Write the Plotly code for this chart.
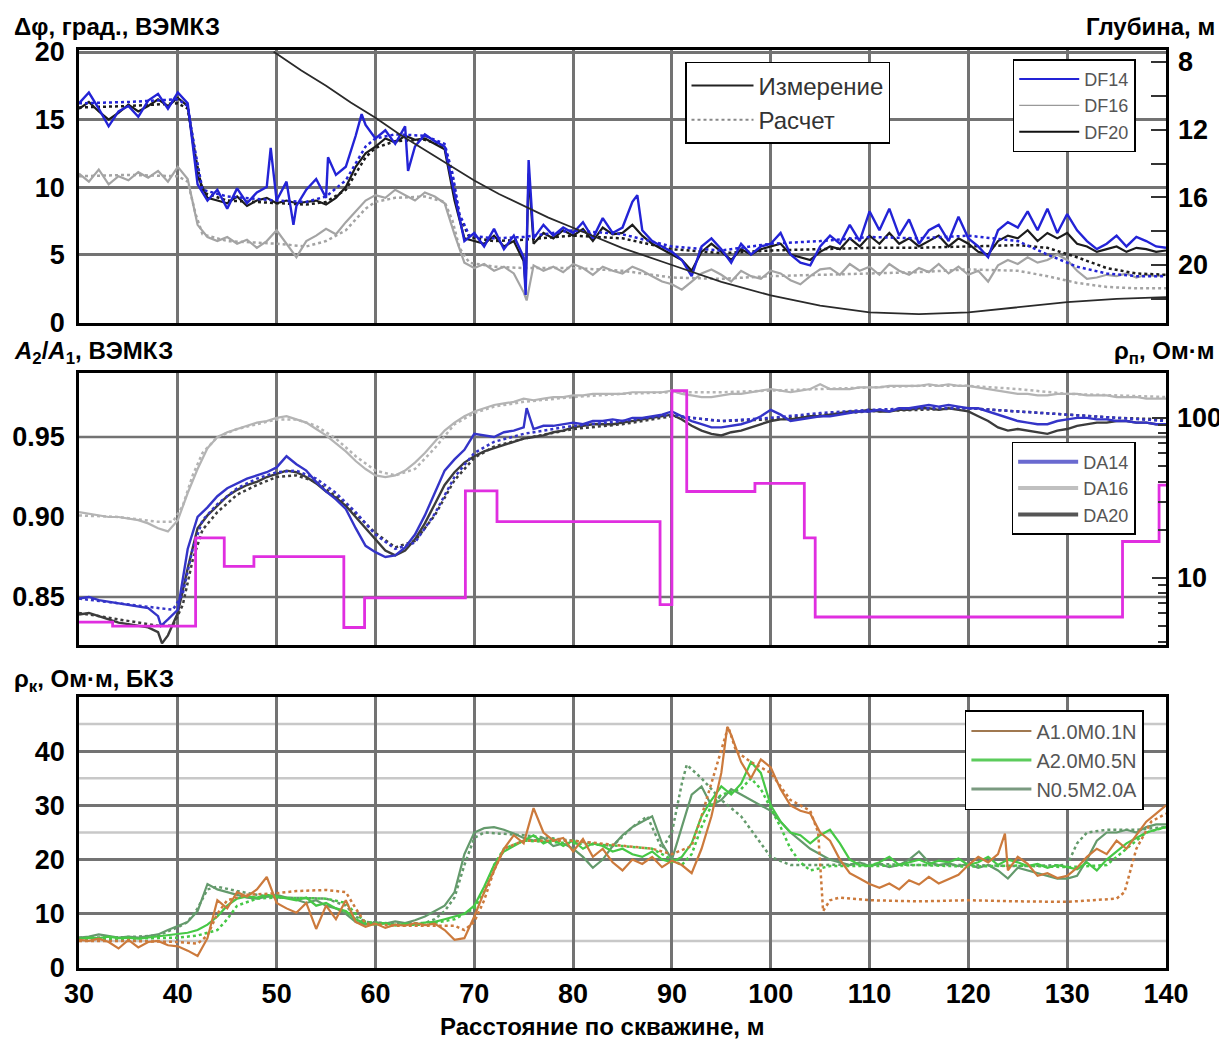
import plotly.graph_objects as go

# ---------------- data ----------------
X = list(range(30, 141))

# Top panel: phase difference (deg), measured, 1 m step
DF14_MEAS = [16.2, 17.0, 15.8, 14.5, 15.6, 16.0, 15.2, 16.4, 16.9, 15.8,
             17.0, 16.2, 10.2, 9.0, 9.8, 8.4, 9.9, 8.8, 9.6, 10.0,
             9.0, 10.4, 8.6, 9.8, 10.6, 9.2, 10.9, 11.5, 13.8, 14.6,
             13.6, 14.2, 13.2, 14.5, 13.0, 13.9, 13.4, 13.0, 9.5, 6.0,
             6.6, 5.6, 6.9, 5.4, 6.4, 4.8, 6.2, 7.2, 6.4, 7.0,
             6.6, 7.4, 6.2, 7.7, 6.6, 7.0, 8.9, 6.8, 6.0, 5.6,
             5.2, 4.6, 3.4, 5.6, 6.2, 5.4, 4.4, 5.8, 5.0, 5.6,
             5.8, 6.6, 5.0, 4.4, 4.2, 5.6, 6.4, 5.8, 7.2, 6.0,
             8.2, 6.8, 8.4, 6.4, 7.6, 5.8, 6.8, 7.2, 6.0, 7.8,
             6.2, 5.6, 4.8, 6.8, 7.4, 7.0, 8.2, 6.8, 8.4, 6.6,
             8.0, 6.8, 6.0, 5.4, 5.8, 6.4, 5.6, 6.3, 6.0, 5.6,
             5.5]
DF14_EXTRA_X = [49.4, 51.7, 55.2, 58.6, 63.3, 75.2, 75.5, 86.5]
DF14_EXTRA_Y = [12.9, 7.2, 12.2, 15.4, 11.2, 2.0, 12.0, 9.4]

DF20_MEAS = [15.8, 16.3, 15.6, 15.0, 15.5, 16.1, 15.6, 16.0, 16.5, 16.0,
             16.6, 16.0, 10.8, 9.2, 9.0, 8.8, 9.3, 8.6, 9.0, 9.2,
             8.8, 9.0, 8.8, 8.9, 9.0, 8.7, 9.2, 10.0, 11.5, 12.5,
             13.0, 13.6, 13.3, 13.8, 13.5, 13.6, 13.2, 12.8, 9.0, 6.2,
             6.0, 5.8, 6.4, 5.6, 6.0, 4.5, 5.8, 6.6, 6.2, 6.8,
             6.4, 6.9, 6.0, 7.0, 6.5, 6.6, 7.2, 6.4, 5.8, 5.4,
             5.0, 4.6, 3.8, 5.2, 5.8, 5.2, 4.6, 5.4, 5.0, 5.4,
             5.6, 5.8, 5.0, 4.8, 4.6, 5.2, 5.6, 5.4, 6.2, 5.6,
             6.4, 5.8, 6.6, 5.8, 6.2, 5.6, 6.0, 6.4, 5.6, 6.2,
             5.8, 5.2, 5.0, 6.0, 6.4, 6.2, 6.8, 6.0, 6.6, 6.2,
             6.6, 5.8, 5.6, 5.2, 5.4, 5.6, 5.2, 5.5, 5.4, 5.2,
             5.3]
DF20_EXTRA_X = [75.2, 75.5]
DF20_EXTRA_Y = [2.6, 11.0]

DF16_MEAS = [11.0, 10.4, 11.3, 10.2, 10.8, 10.5, 11.1, 10.7, 11.2, 10.4,
             11.5, 10.6, 7.2, 6.3, 6.0, 6.3, 5.8, 6.1, 5.5, 6.0,
             6.8, 5.8, 4.8, 6.0, 6.4, 6.9, 6.5, 7.4, 8.2, 9.0,
             9.4, 9.2, 9.8, 9.4, 9.0, 9.6, 9.3, 8.8, 6.5, 4.4,
             4.0, 4.3, 3.8, 4.1, 3.6, 2.2, 4.2, 3.8, 4.1, 3.7,
             4.3, 4.0, 3.5, 4.1, 3.8, 3.6, 4.1, 3.8, 3.4, 3.0,
             2.8, 2.4, 3.0, 3.6, 3.9, 3.5, 3.0, 3.8, 3.4, 3.2,
             3.8, 3.6, 3.1, 2.8, 3.4, 3.9, 4.0, 3.5, 4.3, 3.8,
             4.1, 3.5, 4.3, 3.8, 3.5, 4.0, 3.7, 4.3, 3.6, 4.1,
             3.5, 3.8, 3.0, 4.2, 4.6, 4.3, 4.8, 4.4, 4.6, 5.0,
             4.6, 3.8, 3.2, 3.3, 3.5, 3.4, 3.6, 3.3, 3.5, 3.4,
             3.5]
DF16_EXTRA_X = [75.3]
DF16_EXTRA_Y = [1.6]

# Top panel: computed (dotted)
DF_CALC_X = [30, 35, 40, 41, 41.8, 42.5, 45, 50, 53, 55, 57, 58, 59, 60, 62, 65,
             67, 67.8, 68.5, 69.5, 72, 75, 80, 85, 90, 95, 100, 105, 110, 115,
             120, 125, 128, 131, 134, 137, 140]
DF14_CALC = [16.2, 16.3, 16.5, 16.0, 12.5, 9.8, 9.3, 9.0, 8.9, 9.3, 10.5, 11.8, 13.0, 13.6, 13.9, 13.8,
             13.2, 11.0, 8.0, 6.4, 6.2, 6.3, 6.8, 6.5, 5.6, 5.3, 5.8, 6.0, 6.3, 6.2,
             6.4, 6.0, 5.0, 4.1, 3.6, 3.4, 3.4]
DF20_CALC = [15.9, 16.0, 16.2, 15.8, 12.2, 9.6, 9.0, 8.8, 8.7, 8.9, 9.8, 11.0, 12.2, 12.9, 13.4, 13.5,
             13.0, 10.8, 7.8, 6.3, 6.0, 6.1, 6.4, 6.2, 5.4, 5.1, 5.3, 5.4, 5.5, 5.5,
             5.6, 5.7, 5.5, 4.8, 4.0, 3.6, 3.5]
DF16_CALC = [10.8, 10.9, 10.8, 10.4, 8.0, 6.5, 6.0, 5.8, 5.6, 6.0, 6.8, 7.6, 8.4, 8.9, 9.2, 9.3,
             8.9, 7.5, 5.5, 4.4, 4.1, 4.0, 4.0, 3.8, 3.3, 3.2, 3.4, 3.5, 3.6, 3.7,
             3.9, 3.8, 3.4, 2.9, 2.6, 2.5, 2.5]

# Top panel: well depth (m), right axis
DEPTH_X = [49.7, 52.5, 55, 57.5, 60, 62.5, 65, 67.5, 70, 72.5, 75, 77.5, 80, 85, 90,
           95, 100, 105, 110, 115, 120, 125, 130, 135, 140]
DEPTH = [7.4, 8.5, 9.4, 10.4, 11.3, 12.3, 13.2, 14.1, 15.0, 15.8, 16.5, 17.2, 17.8, 19.0, 20.0,
         21.0, 21.8, 22.4, 22.8, 22.9, 22.8, 22.5, 22.2, 22.0, 21.9]

# Middle panel: amplitude ratio, measured, 1 m step
DA14_MEAS = [0.849, 0.850, 0.848, 0.847, 0.846, 0.845, 0.844, 0.843, 0.838, 0.836,
             0.842, 0.880, 0.900, 0.906, 0.913, 0.918, 0.921, 0.924, 0.926, 0.928,
             0.931, 0.938, 0.933, 0.929, 0.922, 0.916, 0.911, 0.905, 0.893, 0.882,
             0.878, 0.875, 0.876, 0.881, 0.889, 0.901, 0.915, 0.929, 0.936, 0.942,
             0.952, 0.951, 0.950, 0.953, 0.954, 0.956, 0.955, 0.957, 0.957, 0.958,
             0.959, 0.958, 0.960, 0.960, 0.961, 0.960, 0.962, 0.962, 0.963, 0.964,
             0.966, 0.963, 0.960, 0.958, 0.956, 0.956, 0.957, 0.958, 0.960, 0.963,
             0.967, 0.964, 0.960, 0.961, 0.962, 0.963, 0.963, 0.964, 0.965, 0.966,
             0.966, 0.967, 0.966, 0.968, 0.968, 0.969, 0.970, 0.969, 0.970, 0.969,
             0.968, 0.968, 0.966, 0.964, 0.962, 0.960, 0.959, 0.958, 0.958, 0.960,
             0.961, 0.962, 0.962, 0.961, 0.961, 0.960, 0.960, 0.959, 0.959, 0.958,
             0.958]
DA14_EXTRA_X = [38.3, 75.3]
DA14_EXTRA_Y = [0.832, 0.968]

DA20_MEAS = [0.839, 0.840, 0.838, 0.836, 0.834, 0.833, 0.832, 0.831, 0.828, 0.826,
             0.840, 0.868, 0.893, 0.901, 0.907, 0.913, 0.917, 0.920, 0.922, 0.925,
             0.927, 0.929, 0.928, 0.925, 0.921, 0.916, 0.912, 0.907, 0.900, 0.893,
             0.886, 0.879, 0.876, 0.879, 0.886, 0.896, 0.908, 0.920, 0.928, 0.934,
             0.938, 0.941, 0.943, 0.945, 0.947, 0.949, 0.950, 0.951, 0.953, 0.954,
             0.956, 0.957, 0.958, 0.958, 0.958, 0.959, 0.960, 0.961, 0.962, 0.963,
             0.964, 0.961, 0.957, 0.954, 0.952, 0.951, 0.953, 0.954, 0.956, 0.958,
             0.960, 0.961, 0.961, 0.962, 0.963, 0.963, 0.964, 0.965, 0.966, 0.966,
             0.967, 0.966, 0.966, 0.967, 0.967, 0.968, 0.968, 0.967, 0.968, 0.967,
             0.966, 0.963, 0.960, 0.956, 0.954, 0.955, 0.954, 0.953, 0.952, 0.954,
             0.955, 0.957, 0.958, 0.959, 0.959, 0.960, 0.960, 0.959, 0.959, 0.958,
             0.958]
DA20_EXTRA_X = [38.4]
DA20_EXTRA_Y = [0.821]

DA16_MEAS = [0.903, 0.902, 0.901, 0.900, 0.900, 0.899, 0.898, 0.896, 0.893, 0.891,
             0.898, 0.915, 0.930, 0.943, 0.950, 0.953, 0.955, 0.957, 0.959, 0.960,
             0.962, 0.963, 0.961, 0.959, 0.955, 0.951, 0.946, 0.941, 0.935, 0.930,
             0.926, 0.925, 0.926, 0.929, 0.934, 0.940, 0.947, 0.954, 0.959, 0.963,
             0.966, 0.968, 0.970, 0.971, 0.972, 0.974, 0.973, 0.974, 0.975, 0.975,
             0.976, 0.976, 0.977, 0.977, 0.977, 0.977, 0.978, 0.978, 0.978, 0.978,
             0.979, 0.977, 0.976, 0.975, 0.975, 0.976, 0.977, 0.977, 0.978, 0.979,
             0.980, 0.979, 0.978, 0.979, 0.980, 0.983, 0.980, 0.980, 0.980, 0.981,
             0.981, 0.981, 0.982, 0.982, 0.982, 0.982, 0.983, 0.982, 0.983, 0.982,
             0.982, 0.981, 0.980, 0.979, 0.978, 0.977, 0.977, 0.976, 0.976, 0.977,
             0.977, 0.977, 0.976, 0.976, 0.976, 0.975, 0.975, 0.975, 0.974, 0.974,
             0.974]

DA_CALC_X = [30, 34, 38, 39.5, 40.5, 41.5, 42.5, 44, 46, 48,
             50, 52, 54, 56, 58, 60, 62, 64, 66, 68,
             70, 72, 75, 80, 85, 90, 92, 95, 100, 105,
             110, 115, 120, 125, 130, 135, 140]
DA14_CALC = [0.849, 0.846, 0.843, 0.842, 0.852, 0.880, 0.898, 0.908, 0.918, 0.924,
             0.928, 0.929, 0.924, 0.915, 0.903, 0.889, 0.880, 0.884, 0.902, 0.925,
             0.940, 0.947, 0.952, 0.957, 0.960, 0.964, 0.962, 0.960, 0.962, 0.965,
             0.967, 0.968, 0.968, 0.966, 0.964, 0.962, 0.960]
DA16_CALC = [0.901, 0.900, 0.897, 0.897, 0.907, 0.926, 0.940, 0.950, 0.955, 0.958,
             0.961, 0.961, 0.957, 0.949, 0.938, 0.929, 0.926, 0.930, 0.943, 0.958,
             0.965, 0.969, 0.972, 0.975, 0.977, 0.978, 0.978, 0.978, 0.979, 0.980,
             0.981, 0.982, 0.982, 0.980, 0.977, 0.976, 0.975]
DA20_CALC = [0.840, 0.836, 0.832, 0.832, 0.845, 0.873, 0.892, 0.903, 0.914, 0.920,
             0.925, 0.926, 0.922, 0.913, 0.902, 0.890, 0.881, 0.885, 0.901, 0.923,
             0.937, 0.944, 0.949, 0.955, 0.958, 0.963, 0.962, 0.960, 0.961, 0.964,
             0.966, 0.967, 0.968, 0.966, 0.964, 0.962, 0.961]

# Middle panel: layered model resistivity (Ohm*m), step curve, right log axis
RHO_X = [30, 33.4, 41.8, 44.7, 47.7, 56.8, 58.9, 69.1, 72.3, 88.8, 90.0, 91.5,
         98.4, 103.4, 104.5, 135.6, 139.3, 140]
RHO = [5.3, 5.0, 17.8, 11.8, 13.6, 4.9, 7.5, 35.0, 22.5, 6.8, 148.0, 34.7,
       39.0, 17.8, 5.7, 16.9, 38.0, 38.0]

# Bottom panel: apparent resistivity (Ohm*m), measured, 1 m step
A1_MEAS = [5.2, 5.0, 5.4, 4.8, 3.6, 5.2, 3.8, 4.8, 5.0, 4.2,
           4.0, 3.2, 2.2, 5.5, 12.5, 11.0, 14.0, 13.2, 14.5, 16.8,
           12.0, 11.0, 10.2, 12.0, 7.2, 11.5, 9.0, 12.5, 8.5, 7.6,
           8.2, 7.4, 8.0, 7.8, 8.3, 7.9, 8.2, 7.0, 5.2, 5.5,
           9.5, 14.0, 18.0, 22.0, 24.5, 23.0, 29.5, 25.0, 23.5, 24.0,
           21.5, 23.8, 20.5, 22.0, 19.5, 18.0, 20.0, 19.2, 20.5, 18.6,
           19.8, 19.0, 17.5, 22.0, 28.0, 36.0, 43.0, 38.0, 35.0, 38.5,
           37.0, 33.0, 30.0, 29.0, 28.5, 25.0, 23.5, 20.0, 17.5, 16.5,
           15.5, 14.8, 15.6, 14.5, 16.2, 15.4, 16.8, 15.6, 16.4, 17.2,
           19.0, 20.5, 19.5, 21.0, 18.0, 20.5, 19.2, 17.0, 17.5, 16.6,
           17.0, 18.5, 20.5, 22.0, 21.0, 23.5, 22.0, 24.5, 27.0, 28.5,
           30.0]
A1_EXTRA_X = [95.6, 123.7]
A1_EXTRA_Y = [44.5, 24.8]

A2_MEAS = [5.4, 5.6, 5.5, 5.8, 5.5, 5.6, 5.4, 5.6, 5.8, 6.0,
           6.2, 6.5, 7.0, 8.0, 9.5, 11.5, 12.8, 13.2, 13.0, 13.5,
           13.2, 12.8, 12.5, 13.0, 11.5, 12.0, 11.0, 10.5, 9.0, 8.2,
           8.0, 8.3, 7.8, 8.2, 8.0, 8.4, 8.5, 9.0, 9.5, 10.0,
           11.5, 15.0, 19.0, 21.5, 22.5, 23.5, 24.5, 23.0, 23.8, 22.5,
           23.5, 22.0, 23.0, 22.5, 21.5, 22.0, 21.0, 20.5, 21.5, 20.0,
           19.5, 20.5, 23.0, 28.0, 31.0, 33.5, 32.0, 34.0, 38.0, 36.0,
           30.0, 27.0, 25.0, 24.5, 23.0, 24.5, 25.5, 23.0, 20.0, 19.0,
           18.8, 19.5, 20.5, 19.0, 19.5, 20.0, 19.2, 19.8, 19.5, 20.2,
           19.0, 19.5, 20.5, 19.0, 20.0, 19.5, 18.8, 19.2, 18.5, 19.0,
           18.6, 18.2, 19.5, 18.0, 20.0, 21.5, 23.0, 24.0, 25.0, 25.5,
           26.0]

N_MEAS = [5.6, 5.8, 6.2, 5.9, 5.6, 5.8, 5.6, 5.9, 6.2, 7.0,
          7.8, 8.5, 10.5, 15.5, 14.5, 14.0, 13.5, 13.0, 12.8, 13.2,
          13.5, 13.0, 12.6, 12.0, 12.5, 11.5, 11.0, 10.0, 8.5, 8.0,
          8.4, 8.2, 8.6, 8.3, 8.8, 9.5, 10.5, 11.5, 14.0, 21.0,
          25.0, 25.8, 26.0, 25.5, 24.8, 24.0, 23.5, 24.0, 22.5, 23.0,
          22.0, 20.5, 18.5, 20.0, 22.5, 24.5, 26.0, 27.0, 28.0, 23.0,
          20.0, 26.0, 32.0, 33.5, 30.0, 31.0, 33.0, 32.0, 31.0, 30.0,
          29.0, 27.0, 25.0, 23.5, 22.0, 21.0, 20.0, 19.5, 19.0, 19.5,
          18.8, 19.2, 18.6, 19.0, 20.0, 21.5, 19.5, 19.0, 19.3, 18.8,
          19.2, 18.5, 19.0, 18.0, 16.5, 18.5, 18.0, 17.5, 17.0, 16.5,
          16.5, 17.0, 20.0, 23.5, 25.0, 25.0, 25.5, 25.0, 26.0, 26.5,
          26.5]

# Bottom panel: computed (dotted)
A1_CALC_X = [30, 35, 40, 42, 43, 44, 45, 47, 50, 52,
             55, 57, 58, 59, 62, 65, 68, 69, 70, 71,
             72, 73, 75, 80, 85, 88, 90, 92, 93, 94,
             95, 95.7, 96.5, 98, 100, 102, 104, 104.8, 105.3, 106,
             107, 110, 115, 120, 125, 130, 135, 135.8, 137, 138.5,
             140]
A1_CALC = [5.0, 5.0, 4.8, 4.5, 6.0, 10.0, 12.5, 13.5, 13.8, 14.2,
           14.4, 14.0, 11.0, 8.2, 7.8, 7.8, 7.8, 7.0, 8.5, 12.5,
           18.0, 22.0, 23.5, 23.5, 22.5, 22.0, 21.0, 22.5, 28.0, 34.0,
           40.0, 44.5, 40.0, 38.0, 36.0, 31.0, 29.0, 25.0, 10.5, 12.5,
           13.0, 12.5, 12.3, 12.5, 12.3, 12.2, 12.8, 14.0, 22.0, 27.0,
           28.5]
A2_CALC_X = [30, 35, 40, 42, 44, 45, 46, 48, 50, 55,
             57, 58, 59, 62, 65, 68, 70, 71, 72, 73,
             75, 80, 85, 88, 90, 91, 92, 93, 94, 95,
             97, 98, 99, 100, 101, 102, 103, 104, 106, 110,
             115, 120, 125, 130, 134, 136, 138, 140]
A2_CALC = [5.2, 5.4, 5.6, 6.0, 7.0, 9.0, 11.5, 12.8, 13.0, 12.8,
           12.0, 10.0, 8.5, 8.0, 8.0, 9.0, 11.0, 14.0, 19.0, 22.0,
           23.5, 23.0, 22.5, 22.0, 20.0, 19.0, 21.0, 26.0, 30.0, 32.0,
           33.0, 35.0, 33.0, 29.5, 26.0, 22.0, 19.5, 18.0, 18.8, 18.8,
           19.0, 18.7, 18.9, 18.6, 19.0, 22.0, 25.0, 26.0]
N_CALC_X = [30, 35, 38, 40, 41, 42, 43, 44, 46, 48,
            50, 55, 57, 58, 59, 62, 65, 66, 67, 68,
            69, 70, 71, 75, 80, 84, 86, 87.5, 89, 90,
            91, 91.5, 93, 95, 97, 100, 102, 105, 110, 115,
            120, 125, 130, 131, 132, 134, 137, 140]
N_CALC = [5.6, 5.7, 6.0, 7.5, 8.5, 11.0, 14.5, 15.0, 14.2, 13.5,
          13.0, 12.8, 11.5, 9.5, 8.5, 8.2, 8.3, 9.0, 10.5, 13.0,
          19.0, 24.0, 25.0, 24.5, 23.5, 22.5, 26.0, 28.0, 22.0, 25.0,
          34.0, 37.5, 35.0, 31.0, 28.0, 20.5, 19.0, 19.0, 19.2, 19.0,
          19.0, 18.8, 19.0, 23.0, 25.0, 25.5, 25.5, 26.0]

# axis/grid values
GRID_MID = [0.85, 0.95]
LIGHT_GRID_BOTTOM = [5, 25, 35, 45]

# ---------------- styles ----------------
FONT = 'Liberation Sans, Arial, sans-serif'
C_DF14, C_DF16, C_DF20 = '#2323d6', '#a4a4a4', '#1c1c1c'
C_DA14, C_DA16, C_DA20 = '#3434c8', '#b4b4b4', '#3c3c3c'
C_RHO = '#e02ee0'
C_A1, C_A2, C_N = '#cc7a3c', '#46c846', '#649a6c'
GRID_C = '#737373'


def merged(xs, ys, ex, ey):
    pts = sorted(zip(list(xs) + list(ex), list(ys) + list(ey)))
    return [p[0] for p in pts], [p[1] for p in pts]


fig = go.Figure()


def add(x, y, color, width, dash, xa, ya, shape='linear'):
    fig.add_trace(go.Scatter(x=x, y=y, mode='lines', xaxis=xa, yaxis=ya,
                             line=dict(color=color, width=width, dash=dash, shape=shape),
                             showlegend=False, hoverinfo='skip'))


def leg(name, color, width, dash, legend, xa, ya):
    fig.add_trace(go.Scatter(x=[None], y=[None], mode='lines', name=name, xaxis=xa, yaxis=ya,
                             line=dict(color=color, width=width, dash=dash),
                             legend=legend, showlegend=True, hoverinfo='skip'))


# --- top panel
add(DF_CALC_X, DF16_CALC, C_DF16, 2.5, 'dot', 'x3', 'y')
add(*merged(X, DF16_MEAS, DF16_EXTRA_X, DF16_EXTRA_Y), C_DF16, 2.2, 'solid', 'x3', 'y')
add(*merged(X, DF20_MEAS, DF20_EXTRA_X, DF20_EXTRA_Y), C_DF20, 2.2, 'solid', 'x3', 'y')
add(DF_CALC_X, DF20_CALC, C_DF20, 2.5, 'dot', 'x3', 'y')
add(*merged(X, DF14_MEAS, DF14_EXTRA_X, DF14_EXTRA_Y), C_DF14, 2.4, 'solid', 'x3', 'y')
add(DF_CALC_X, DF14_CALC, C_DF14, 2.5, 'dot', 'x3', 'y')
add(DEPTH_X, DEPTH, '#2a2a2a', 1.8, 'solid', 'x3', 'y2')

# --- middle panel
add(X, DA16_MEAS, C_DA16, 2.2, 'solid', 'x2', 'y3')
add(DA_CALC_X, DA16_CALC, C_DA16, 2.5, 'dot', 'x2', 'y3')
add(*merged(X, DA20_MEAS, DA20_EXTRA_X, DA20_EXTRA_Y), C_DA20, 2.4, 'solid', 'x2', 'y3')
add(DA_CALC_X, DA20_CALC, C_DA20, 2.5, 'dot', 'x2', 'y3')
add(*merged(X, DA14_MEAS, DA14_EXTRA_X, DA14_EXTRA_Y), C_DA14, 2.4, 'solid', 'x2', 'y3')
add(DA_CALC_X, DA14_CALC, C_DA14, 2.5, 'dot', 'x2', 'y3')
add(RHO_X, RHO, C_RHO, 2.8, 'solid', 'x2', 'y4', shape='hv')

# --- bottom panel
add(N_CALC_X, N_CALC, C_N, 2.5, 'dot', 'x', 'y5')
add(X, N_MEAS, C_N, 2.2, 'solid', 'x', 'y5')
add(A2_CALC_X, A2_CALC, C_A2, 2.5, 'dot', 'x', 'y5')
add(X, A2_MEAS, C_A2, 2.2, 'solid', 'x', 'y5')
add(A1_CALC_X, A1_CALC, C_A1, 2.5, 'dot', 'x', 'y5')
add(*merged(X, A1_MEAS, A1_EXTRA_X, A1_EXTRA_Y), C_A1, 2.2, 'solid', 'x', 'y5')

# --- legend entries
leg('Измерение', '#222222', 2, 'solid', 'legend', 'x3', 'y')
leg('Расчет', '#888888', 2, 'dot', 'legend', 'x3', 'y')
leg('DF14', C_DF14, 2, 'solid', 'legend2', 'x3', 'y')
leg('DF16', '#999999', 1.2, 'solid', 'legend2', 'x3', 'y')
leg('DF20', '#111111', 2, 'solid', 'legend2', 'x3', 'y')
leg('DA14', '#6a6ad0', 4, 'solid', 'legend3', 'x2', 'y3')
leg('DA16', '#c0c0c0', 4, 'solid', 'legend3', 'x2', 'y3')
leg('DA20', '#555555', 4, 'solid', 'legend3', 'x2', 'y3')
leg('A1.0M0.1N', '#a07850', 2, 'solid', 'legend4', 'x', 'y5')
leg('A2.0M0.5N', '#5ccc5c', 3, 'solid', 'legend4', 'x', 'y5')
leg('N0.5M2.0A', '#7a9a80', 3, 'solid', 'legend4', 'x', 'y5')

# ---------------- layout ----------------
TICKFONT = dict(family=FONT, size=27, color='black', weight='bold')
xcommon = dict(range=[30, 140], tick0=30, dtick=10, showgrid=True, gridcolor=GRID_C, gridwidth=2.5,
               showline=True, linecolor='black', linewidth=2.5, mirror=True, ticks='',
               zeroline=False, tickfont=TICKFONT, automargin=False)
yleft = dict(showline=True, linecolor='black', linewidth=2.5, mirror=True, ticks='',
             zeroline=False, tickfont=TICKFONT, ticklabelstandoff=6, automargin=False)


def legend_box(x, y, size, color, iw=60):
    return dict(x=x, y=y, xanchor='left', yanchor='top', bgcolor='white', bordercolor='black',
                borderwidth=1.5, font=dict(family=FONT, size=size, color=color),
                tracegroupgap=0, itemwidth=iw)


shapes = []
for v in GRID_MID:
    shapes.append(dict(type='line', xref='x2 domain', x0=0, x1=1, yref='y3', y0=v, y1=v,
                       line=dict(color=GRID_C, width=2.5), layer='below'))
for v in LIGHT_GRID_BOTTOM:
    shapes.append(dict(type='line', xref='x domain', x0=0, x1=1, yref='y5', y0=v, y1=v,
                       line=dict(color='#c8c8c8', width=2.5), layer='below'))

TITLE_FONT = dict(family=FONT, size=24, color='black', weight='bold')
annotations = [
    dict(text='Δφ, град., ВЭМКЗ', x=-0.0616, y=1.026, xanchor='left'),
    dict(text='Глубина, м', x=1.047, y=1.026, xanchor='right'),
    dict(text='<i>A</i><sub>2</sub>/<i>A</i><sub>1</sub>, ВЭМКЗ', x=-0.0616, y=0.671, xanchor='left'),
    dict(text='ρ<sub>п</sub>, Ом·м', x=1.047, y=0.671, xanchor='right'),
    dict(text='ρ<sub>к</sub>, Ом·м, БКЗ', x=-0.0616, y=0.3137, xanchor='left'),
    dict(text='Расстояние по скважине, м', x=0.481, y=-0.0632, xanchor='center'),
]
for a in annotations:
    a.update(xref='paper', yref='paper', yanchor='middle', showarrow=False, font=TITLE_FONT)

# page body adds an 8 px offset, so the figure is sized/margined to put the
# plot area at the same screen pixels as the reference
fig.update_layout(
    width=1219, height=1031, margin=dict(l=71, r=61, t=42, b=71, autoexpand=False),
    plot_bgcolor='white', paper_bgcolor='white', hovermode=False,
    font=dict(family=FONT),
    xaxis=dict(**xcommon, anchor='y5', domain=[0, 1]),
    xaxis2=dict(**xcommon, anchor='y3', matches='x', showticklabels=False),
    xaxis3=dict(**xcommon, anchor='y', matches='x', showticklabels=False),
    yaxis=dict(**yleft, domain=[0.7026, 1.0], anchor='x3', range=[-0.07, 20.15],
               tickvals=[0, 5, 10, 15, 20], showgrid=True, gridcolor=GRID_C, gridwidth=2.5),
    yaxis2=dict(overlaying='y', side='right', anchor='x3', range=[23.43, 7.29],
                tickvals=[8, 12, 16, 20], ticks='inside', ticklen=15, tickwidth=2, tickcolor='#333',
                minor=dict(tickvals=[10, 14, 18, 22], ticks='inside', ticklen=15, tickwidth=2,
                           tickcolor='#333'),
                showgrid=False, zeroline=False, showline=False, tickfont=TICKFONT,
                ticklabelstandoff=11, automargin=False),
    yaxis3=dict(**yleft, domain=[0.3519, 0.6481], anchor='x2', range=[0.82, 0.99],
                tickvals=[0.85, 0.90, 0.95], ticktext=['0.85', '0.90', '0.95'], showgrid=False),
    yaxis4=dict(overlaying='y3', side='right', anchor='x2', type='log', range=[0.581, 2.281],
                tickvals=[10, 100], ticktext=['10', '100'], ticks='inside', ticklen=14, tickwidth=2,
                tickcolor='#333',
                minor=dict(tickvals=[4, 5, 6, 7, 8, 9, 20, 30, 40, 50, 60, 70, 80, 90],
                           ticks='inside', ticklen=8, tickwidth=2, tickcolor='#333'),
                showgrid=False, zeroline=False, showline=False, tickfont=TICKFONT,
                ticklabelstandoff=10, automargin=False),
    yaxis5=dict(**yleft, domain=[0, 0.2952], anchor='x', range=[0, 50],
                tickvals=[0, 10, 20, 30, 40], showgrid=True, gridcolor=GRID_C, gridwidth=2.5),
    legend=legend_box(0.5575, 0.987, 24, '#333333', iw=62),
    legend2=legend_box(0.859, 0.990, 18, '#555555'),
    legend3=legend_box(0.858, 0.573, 18, '#555555'),
    legend4=legend_box(0.815, 0.281, 20, '#555555'),
    shapes=shapes,
    annotations=annotations,
)

fig.write_html('out.html')
